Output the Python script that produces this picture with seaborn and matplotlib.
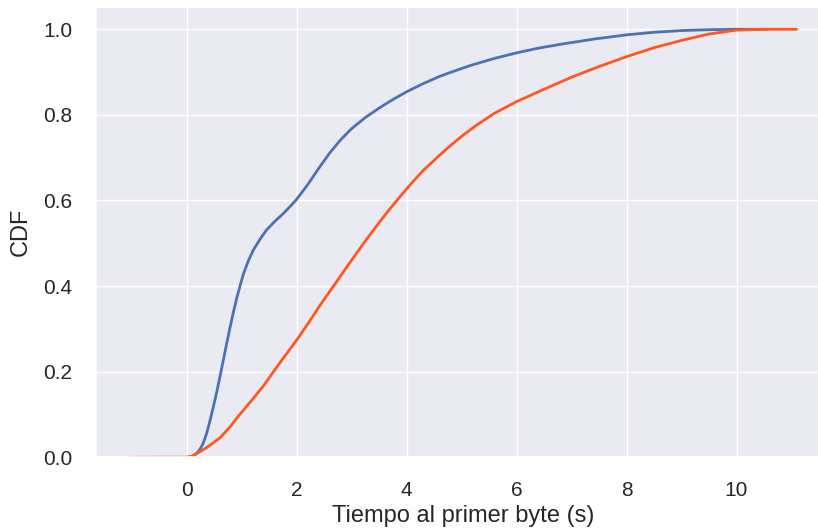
import matplotlib
matplotlib.use("Agg")
import matplotlib.pyplot as plt
import pandas as pd
import seaborn as sns

# CDF of time to first byte, two measurement groups
tiempo_a = [-0.6, 0.0, 0.05, 0.12, 0.2, 0.25, 0.30, 0.36, 0.42, 0.48, 0.55,
            0.61, 0.67, 0.73, 0.79, 0.85, 0.91, 0.97, 1.03, 1.12, 1.21, 1.33,
            1.45, 1.6, 1.76, 1.88, 2.0, 2.2, 2.4, 2.6, 2.8, 3.0, 3.25, 3.5,
            3.75, 4.0, 4.3, 4.6, 4.9, 5.2, 5.6, 6.0, 6.4, 6.8, 7.4, 8.0, 8.5,
            9.0, 9.5, 10.0, 10.57]
cdf_a = [0.0, 0.0, 0.0005, 0.003, 0.012, 0.021, 0.033, 0.055, 0.084, 0.116,
         0.155, 0.192, 0.230, 0.268, 0.305, 0.340, 0.372, 0.401, 0.428, 0.459,
         0.484, 0.509, 0.531, 0.551, 0.570, 0.586, 0.603, 0.637, 0.675, 0.711,
         0.742, 0.768, 0.794, 0.816, 0.836, 0.854, 0.873, 0.890, 0.904, 0.917,
         0.932, 0.945, 0.956, 0.965, 0.977, 0.987, 0.993, 0.997, 0.999, 1.0,
         1.0]

tiempo_b = [-1.04, 0.0, 0.1, 0.24, 0.4, 0.61, 0.8, 0.97, 1.2, 1.39, 1.55,
            1.70, 1.85, 2.0, 2.24, 2.45, 2.67, 2.88, 3.09, 3.27, 3.45, 3.66,
            3.88, 4.1, 4.30, 4.5, 4.73, 5.0, 5.27, 5.6, 6.0, 6.5, 7.0, 7.5,
            8.0, 8.5, 9.0, 9.5, 10.0, 10.5, 11.09]
cdf_b = [0.0, 0.0, 0.003, 0.013, 0.026, 0.046, 0.073, 0.101, 0.136, 0.166,
         0.195, 0.222, 0.248, 0.274, 0.319, 0.360, 0.400, 0.439, 0.477, 0.509,
         0.540, 0.575, 0.609, 0.642, 0.670, 0.694, 0.721, 0.750, 0.776, 0.804,
         0.831, 0.860, 0.888, 0.913, 0.936, 0.957, 0.974, 0.989, 0.998, 1.0,
         1.0]

x_ticks = [0, 2, 4, 6, 8, 10]
y_ticks = [0.0, 0.2, 0.4, 0.6, 0.8, 1.0]
colores = ["#4C72B0", "#FF5722"]

df = pd.concat([
    pd.DataFrame({"tiempo": tiempo_a, "cdf": cdf_a, "grupo": "a"}),
    pd.DataFrame({"tiempo": tiempo_b, "cdf": cdf_b, "grupo": "b"}),
], ignore_index=True)

sns.set_theme(style="darkgrid")
plt.rcParams["font.family"] = ["Liberation Sans", "DejaVu Sans"]

fig = plt.figure(figsize=(8.18, 5.31), dpi=100)
ax = fig.add_axes([0.1174, 0.1388, 0.8973, 0.8475])

sns.lineplot(data=df, x="tiempo", y="cdf", hue="grupo", palette=colores,
             estimator=None, sort=False, linewidth=2.0, legend=False, ax=ax)

ax.set_xlim(-1.65, 11.7)
ax.set_ylim(0, 1.0514)
ax.set_xticks(x_ticks)
ax.set_yticks(y_ticks)
ax.set_xticklabels([str(t) for t in x_ticks])
ax.set_yticklabels([f"{t:.1f}" for t in y_ticks])
ax.tick_params(axis="both", length=0, pad=17, labelsize=15, labelcolor="#262626")
ax.set_xlabel("Tiempo al primer byte (s)", fontsize=17, color="#262626", labelpad=4)
ax.set_ylabel("CDF", fontsize=17, color="#262626", labelpad=8)

fig.savefig("out.png", dpi=100)
